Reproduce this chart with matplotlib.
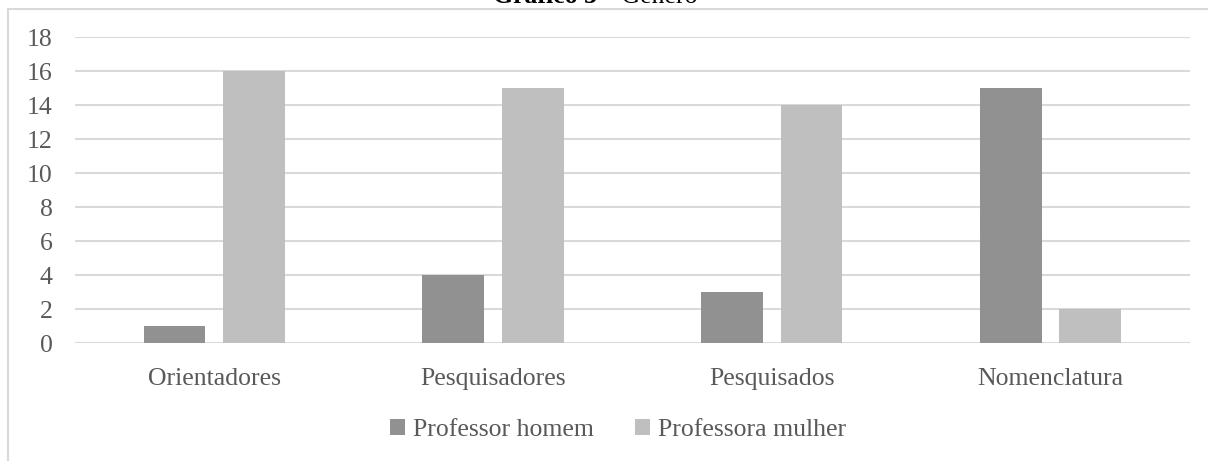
import numpy as np
import matplotlib
matplotlib.use("Agg")
import matplotlib.pyplot as plt
from matplotlib.patches import Rectangle

categories = ["Orientadores", "Pesquisadores", "Pesquisados", "Nomenclatura"]
homem = [1, 4, 3, 15]
mulher = [16, 15, 14, 2]
series_names = ["Professor homem", "Professora mulher"]
yticks = [0, 2, 4, 6, 8, 10, 12, 14, 16, 18]

plt.rcParams['font.family'] = ['Liberation Serif', 'DejaVu Serif']

W, H = 1208, 461
fig = plt.figure(figsize=(W / 100, H / 100), dpi=100)

# outer chart frame (runs off the right and bottom edges)
fig.add_artist(Rectangle((8 / W, -0.1), 1.2, 1 - 9 / H + 0.1, transform=fig.transFigure,
                         fill=False, edgecolor='#d9d9d9', linewidth=1.5))

ax = fig.add_axes([75 / W, 1 - 343 / H, (1190 - 75) / W, (343 - 37) / H])

x = np.arange(len(categories))
width = 0.222
ax.bar(x - 0.143, homem, width, color='#919191', label=series_names[0], zorder=3)
ax.bar(x + 0.142, mulher, width, color='#bfbfbf', label=series_names[1], zorder=3)

ax.set_xlim(-0.5, len(categories) - 0.5)
ax.set_ylim(0, 18)
ax.set_yticks(yticks)
ax.set_xticks(x)
ax.set_xticklabels(categories)
ax.grid(axis='y', color='#d9d9d9', linewidth=1.5, zorder=0)
for s in ax.spines.values():
    s.set_visible(False)
ax.tick_params(axis='both', length=0, labelsize=18.5, colors='#595959')
ax.tick_params(axis='y', pad=16)
ax.tick_params(axis='x', pad=18)

leg = fig.legend(loc='center', bbox_to_anchor=(618 / W, 1 - 430 / H), ncol=2, frameon=False,
                 fontsize=18.5, handlelength=0.6, handleheight=0.6, handletextpad=0.3,
                 columnspacing=1.6)
for t in leg.get_texts():
    t.set_color('#595959')

# title, partly cut off at the top as in the source
fig.text(597 / W, 1 - 3 / H, "Gráfico 3", ha='right', va='baseline', fontsize=18.5,
         fontweight='bold', color='black')
fig.text(602 / W, 1 - 3 / H, "– Gênero", ha='left', va='baseline', fontsize=18.5,
         color='black')

plt.savefig("out.png", dpi=100)
